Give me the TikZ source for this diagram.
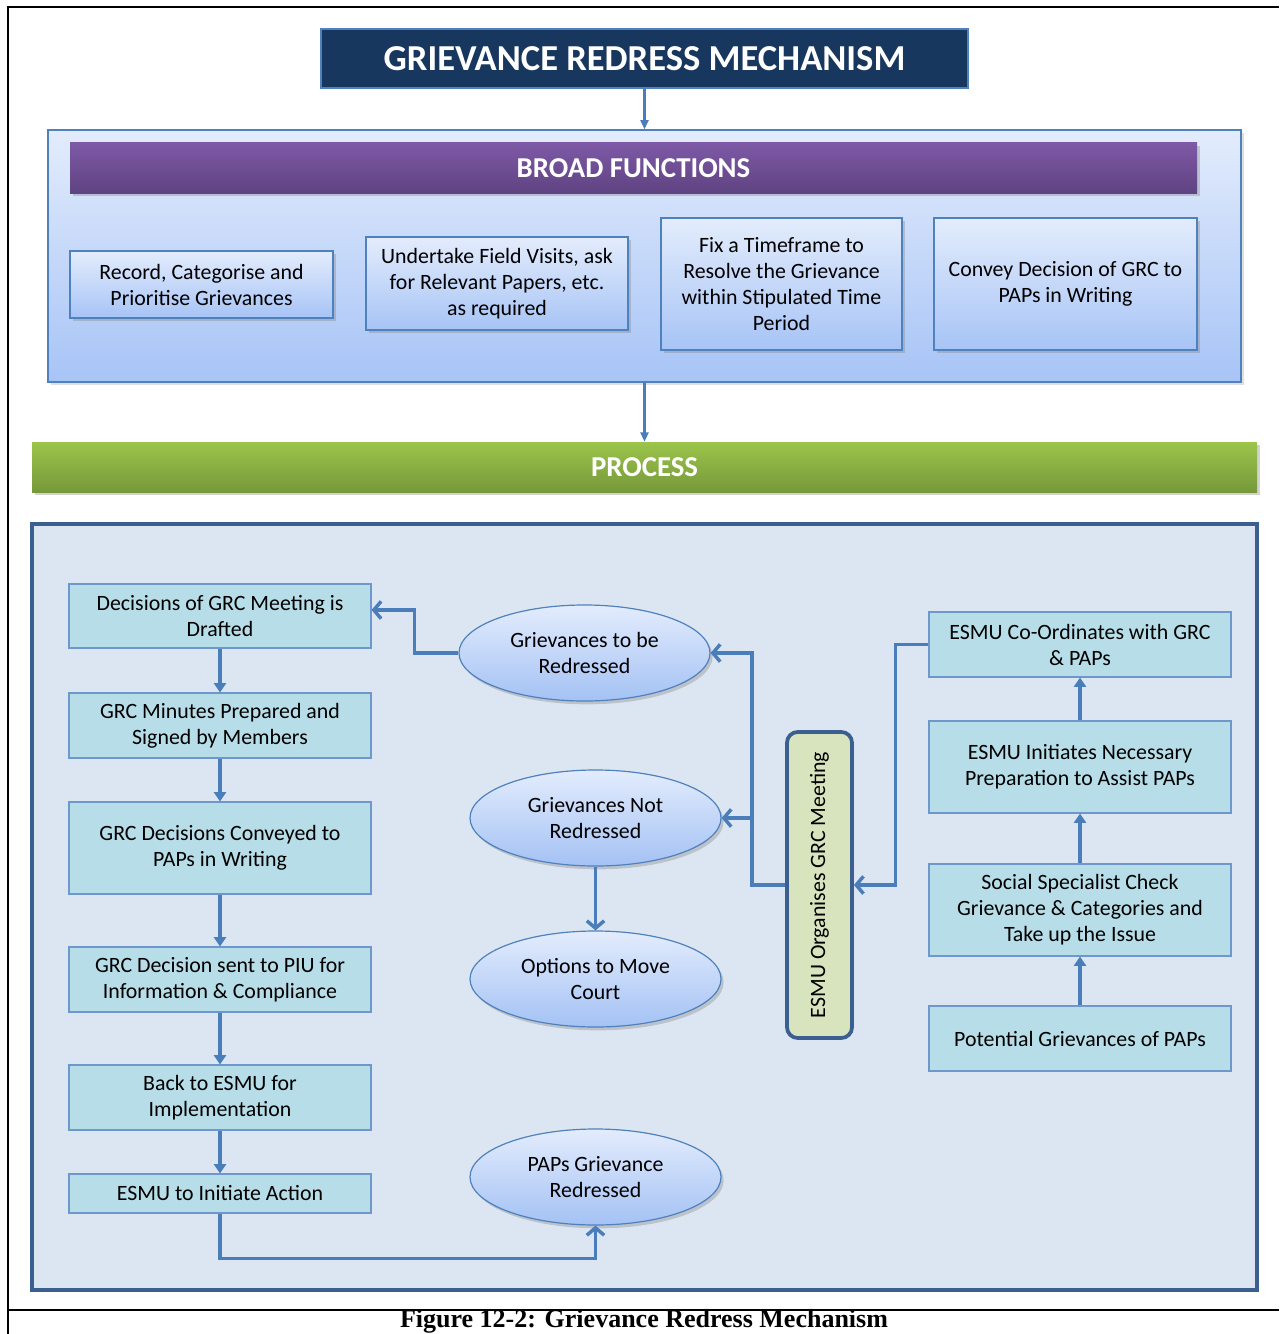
\documentclass[tikz,border=0pt]{standalone}
\usepackage{fontspec}
\setmainfont{Carlito}
\newfontfamily\capfont{Liberation Serif}
\usetikzlibrary{arrows.meta,shapes.geometric,shadows,calc}
\definecolor{navy}{HTML}{17375E}
\definecolor{edgeblue}{HTML}{4F81BD}
\definecolor{paneltop}{HTML}{E3ECFC}
\definecolor{panelbot}{HTML}{A7C4F6}
\definecolor{purptop}{HTML}{7E59A6}
\definecolor{purpbot}{HTML}{5F4382}
\definecolor{greentop}{HTML}{9CC54B}
\definecolor{greenbot}{HTML}{76983A}
\definecolor{procfill}{HTML}{DCE6F2}
\definecolor{procedge}{HTML}{3B6090}
\definecolor{boxfill}{HTML}{B7DEE8}
\definecolor{boxedge}{HTML}{6E98CB}
\definecolor{elltop}{HTML}{E3ECFD}
\definecolor{ellbot}{HTML}{A4C2F4}
\definecolor{esmufill}{HTML}{D7E4BD}
\definecolor{arrowc}{HTML}{4A7EBB}
\tikzset{
  sz/.style 2 args={minimum width=#1*0.75pt, minimum height=#2*0.75pt},
  txt/.style={font=\fontsize{16.4}{19.5}\selectfont, align=center, inner sep=0pt, text=black},
  titlebox/.style={draw=edgeblue, line width=2.2pt, fill=navy, text=white, inner sep=0pt,
     font=\fontsize{27.4}{32}\selectfont\bfseries},
  bfpanel/.style={draw=edgeblue, line width=0.9pt, top color=paneltop, bottom color=panelbot,
     drop shadow={opacity=0.25, shadow xshift=2pt, shadow yshift=-2pt}},
  banner/.style={draw=none, text=white, inner sep=0pt, font=\fontsize{21.6}{25}\selectfont\bfseries,
     drop shadow={opacity=0.35, shadow xshift=2pt, shadow yshift=-2.5pt}},
  fbox/.style={txt, draw=edgeblue, line width=0.9pt, top color=paneltop, bottom color=panelbot,
     drop shadow={opacity=0.35, shadow xshift=2pt, shadow yshift=-2.5pt}},
  procpanel/.style={draw=procedge, line width=2.8pt, fill=procfill},
  pbox/.style={txt, draw=boxedge, line width=0.8pt, fill=boxfill},
  ell/.style={txt, ellipse, draw=edgeblue, line width=0.9pt, top color=elltop, bottom color=ellbot,
     drop shadow={opacity=0.35, shadow xshift=2pt, shadow yshift=-2.5pt}},
  esmubox/.style={txt, draw=procedge, line width=2.8pt, fill=esmufill, rounded corners=8pt},
  chev/.style={draw=arrowc, line width=2.6pt, -{Straight Barb[length=5.5pt,width=13pt]}},
  tri/.style={draw=arrowc, line width=2.6pt, -{Triangle[length=7pt,width=9pt]}},
  thintri/.style={draw=arrowc, line width=1.6pt, -{Triangle[length=7pt,width=6pt]}},
  frame/.style={draw=black, line width=2.2pt},
}
\begin{document}
\begin{tikzpicture}[x=0.75pt,y=-0.75pt]
\useasboundingbox[fill=white] (0,0) rectangle (1279,1334);
% outer frame
\draw[frame] (8,1334) -- (8,7) -- (1279,7);
\draw[frame] (8,1310) -- (1279,1310);

% title
\node[titlebox, sz={647}{59}] (title) at (644.5,58.5) {GRIEVANCE REDRESS MECHANISM};

% broad functions
\node[bfpanel, sz={1193}{252}] (bf) at (644.5,256) {};
\node[banner, top color=purptop, bottom color=purpbot, sz={1127}{50}] (bfban) at (633.5,168) {BROAD FUNCTIONS};
\node[fbox, sz={263}{67}] (f1) at (201.5,284.5) {Record, Categorise and\\Prioritise Grievances};
\node[fbox, sz={262}{93}] (f2) at (497,283.5) {Undertake Field Visits, ask\\for Relevant Papers, etc.\\as required};
\node[fbox, sz={241}{132}] (f3) at (781.5,284) {Fix a Timeframe to\\Resolve the Grievance\\within Stipulated Time\\Period};
\node[fbox, sz={263}{132}] (f4) at (1065.5,284) {Convey Decision of GRC to\\PAPs in Writing};

% process banner
\node[banner, top color=greentop, bottom color=greenbot, sz={1225}{50}] (proc) at (644.5,467) {PROCESS};

\draw[thintri] (title) -- (bf);
\draw[thintri] (bf) -- (proc);

% process panel
\node[procpanel, sz={1225}{766}] (pp) at (644.5,907) {};

% left column
\node[pbox, sz={302}{64}] (a) at (220,616) {Decisions of GRC Meeting is\\Drafted};
\node[pbox, sz={302}{65}] (b) at (220,725.5) {GRC Minutes Prepared and\\Signed by Members};
\node[pbox, sz={302}{92}] (c) at (220,848) {GRC Decisions Conveyed to\\PAPs in Writing};
\node[pbox, sz={302}{65}] (d) at (220,979.5) {GRC Decision sent to PIU for\\Information \& Compliance};
\node[pbox, sz={302}{65}] (e) at (220,1097.5) {Back to ESMU for\\Implementation};
\node[pbox, sz={302}{39}] (f) at (220,1193.5) {ESMU to Initiate Action};

% ellipses
\node[ell, sz={251}{96}] (e1) at (584.5,653) {Grievances to be\\Redressed};
\node[ell, sz={251}{96}] (e2) at (595.5,818) {Grievances Not\\Redressed};
\node[ell, sz={251}{96}] (e3) at (595.5,979) {Options to Move\\Court};
\node[ell, sz={251}{96}] (e4) at (595.5,1177) {PAPs Grievance\\Redressed};

% ESMU
\node[esmubox, sz={65}{306}] (esmu) at (819.5,885) {\rotatebox{90}{ESMU Organises GRC Meeting}};

% right column
\node[pbox, sz={302}{65}] (r1) at (1080,644.5) {ESMU Co-Ordinates with GRC\\\& PAPs};
\node[pbox, sz={302}{92}] (r2) at (1080,767) {ESMU Initiates Necessary\\Preparation to Assist PAPs};
\node[pbox, sz={302}{92}] (r3) at (1080,910) {Social Specialist Check\\Grievance \& Categories and\\Take up the Issue};
\node[pbox, sz={302}{65}] (r4) at (1080,1038.5) {Potential Grievances of PAPs};

% connectors
\draw[tri] (a) -- (b);
\draw[tri] (b) -- (c);
\draw[tri] (c) -- (d);
\draw[tri] (d) -- (e);
\draw[tri] (e) -- (f);
\draw[tri] (r4) -- (r3);
\draw[tri] (r3) -- (r2);
\draw[tri] (r2) -- (r1);

\draw[chev] (r1.west) -- ++(-33,0) |- (esmu.east);
\draw[chev] (esmu.west) -- ++(-33,0) |- (e1.east);
\draw[chev] (esmu.west) -- ++(-33,0) |- (e2.east);
\draw[chev] (e1.west) -- ++(-44,0) |- ([yshift=4.5pt]a.east);
\draw[chev] (e2) -- (e3);
\draw[chev] (f.south) -- ++(0,45) -| (e4.south);

% caption
\node[anchor=base, inner sep=0pt, font=\capfont\fontsize{19.5}{21}\selectfont\bfseries] (cap) at (644,1327) {Figure 12-2: Grievance Redress Mechanism};
\end{tikzpicture}
\end{document}
